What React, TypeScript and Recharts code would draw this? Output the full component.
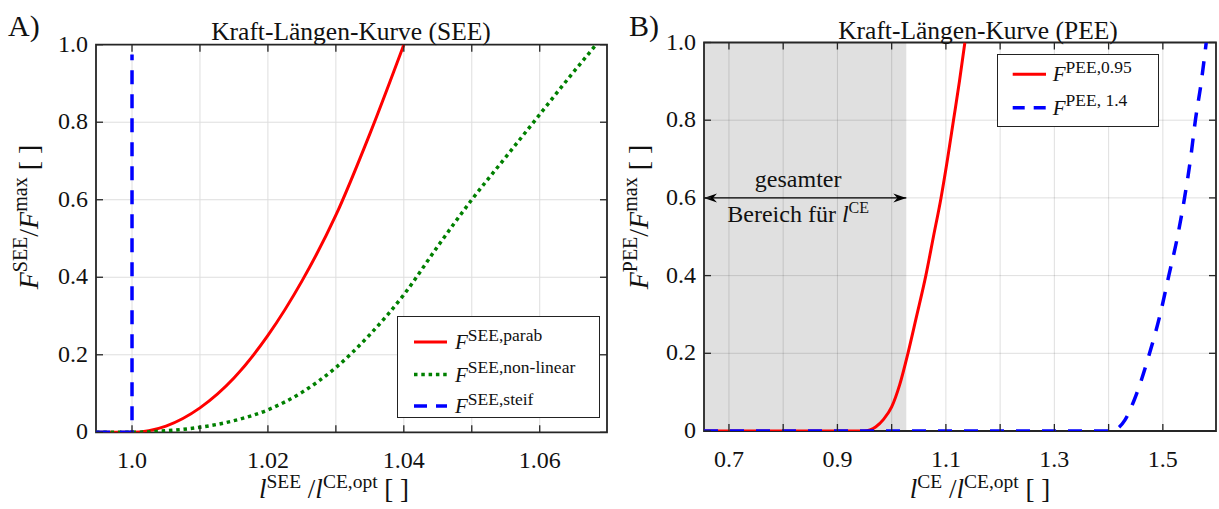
import React from 'react';
import { LineChart, Line, XAxis, YAxis, CartesianGrid, ReferenceArea, ReferenceLine, Legend } from 'recharts';

const FONT = '"Liberation Serif", "Times New Roman", Times, serif';
const AX = '#262626';
const TXT = '#111';

// ---------- Panel A (SEE) ----------
const seeDomain = [0.9947, 1.0699];
const seeTicks = [1.0, 1.01, 1.02, 1.03, 1.04, 1.05, 1.06];
const seeTickLabels = ['1.0', '', '1.02', '', '1.04', '', '1.06'];

const yTicks = [0, 0.2, 0.4, 0.6, 0.8, 1.0];
const yTickLabels = ['0', '0.2', '0.4', '0.6', '0.8', '1.0'];

const parabX = [0.9947, 1.0, 1.005, 1.01, 1.015, 1.02, 1.025, 1.03, 1.035, 1.04];
const parabY = [0, 0, 0.016, 0.063, 0.14, 0.25, 0.39, 0.56, 0.77, 1.0];

const nonlinX = [0.9947, 1.0, 1.005, 1.01, 1.015, 1.02, 1.025, 1.03, 1.035, 1.04, 1.045, 1.05, 1.055, 1.06, 1.065, 1.0683];
const nonlinY = [0, 0, 0.004, 0.013, 0.03, 0.058, 0.103, 0.167, 0.252, 0.355, 0.48, 0.6, 0.71, 0.82, 0.93, 1.0];

const steifX = [0.9947, 1.0, 1.0];
const steifY = [0, 0, 0.975];

// ---------- Panel B (PEE) ----------
const peeDomain = [0.654, 1.598];
const peeTicks = [0.7, 0.8, 0.9, 1.0, 1.1, 1.2, 1.3, 1.4, 1.5];
const peeTickLabels = ['0.7', '', '0.9', '', '1.1', '', '1.3', '', '1.5'];

const pee095X = [0.654, 0.95, 0.96, 0.971, 0.985, 1.0, 1.015, 1.03, 1.045, 1.063, 1.077, 1.091, 1.103, 1.114, 1.125, 1.135];
const pee095Y = [0, 0, 0.003, 0.011, 0.03, 0.062, 0.12, 0.2, 0.29, 0.4, 0.5, 0.6, 0.7, 0.8, 0.9, 1.0];

const pee14X = [0.654, 1.4, 1.41, 1.43, 1.45, 1.4755, 1.495, 1.511, 1.527, 1.54, 1.551, 1.56, 1.571, 1.58];
const pee14Y = [0, 0, 0.002, 0.028, 0.09, 0.2, 0.3, 0.4, 0.5, 0.6, 0.7, 0.8, 0.9, 1.0];

const shadeStart = 0.654;
const shadeEnd = 1.027;
const arrowLevel = 0.6;

const pts = (xs: number[], ys: number[]) => xs.map((x, i) => ({ x, y: ys[i] }));

// ---------- layout ----------
const BOX_A = { L: 96, R: 607, T: 44.7, B: 432.3, W: 610 };
const BOX_B = { L: 94, R: 606, T: 42.5, B: 431, W: 609 };
const XAXIS_H = 40;

const makeXTick = (box: any, ticks: number[], labels: string[]) => (props: any) => {
  const { x, payload } = props;
  const i = ticks.findIndex((t) => Math.abs(t - payload.value) < 1e-9);
  const lab = i >= 0 ? labels[i] : '';
  return (
    <g>
      <line x1={x} x2={x} y1={box.B} y2={box.B - 7} stroke={AX} strokeWidth={1.3} />
      <line x1={x} x2={x} y1={box.T} y2={box.T + 7} stroke={AX} strokeWidth={1.3} />
      {lab ? (
        <text x={x} y={box.B + 36} textAnchor="middle" fontFamily={FONT} fontSize={24} fill={TXT}>
          {lab}
        </text>
      ) : null}
    </g>
  );
};

const makeYTick = (box: any) => (props: any) => {
  const { y, payload } = props;
  const i = yTicks.findIndex((t) => Math.abs(t - payload.value) < 1e-9);
  const lab = i >= 0 ? yTickLabels[i] : '';
  return (
    <g>
      <line x1={box.L} x2={box.L + 7} y1={y} y2={y} stroke={AX} strokeWidth={1.3} />
      <line x1={box.R} x2={box.R - 7} y1={y} y2={y} stroke={AX} strokeWidth={1.3} />
      <text x={box.L - 8} y={y - 1} textAnchor="end" dominantBaseline="central" fontFamily={FONT} fontSize={24} fill={TXT}>
        {lab}
      </text>
    </g>
  );
};

type Row = { color: string; dash?: string; sw: number; sup: string; cy: number };

const LegendBox = ({ w, h, rows, x1, x2, tx }: { w: number; h: number; rows: Row[]; x1: number; x2: number; tx: number }) => (
  <div style={{ width: w, height: h, border: '1.2px solid #222', background: '#fff', boxSizing: 'border-box' }}>
    <svg width={w - 2} height={h - 2} style={{ display: 'block' }}>
      {rows.map((r, i) => (
        <g key={i}>
          <line x1={x1} x2={x2} y1={r.cy} y2={r.cy} stroke={r.color} strokeWidth={r.sw} strokeDasharray={r.dash} />
          <text x={tx} y={r.cy + 7} fontFamily={FONT} fontSize={21} fill={TXT}>
            <tspan fontStyle="italic">F</tspan>
            <tspan fontSize={17.5} dy={-8.5}>{r.sup}</tspan>
          </text>
        </g>
      ))}
    </svg>
  </div>
);

const ArrowAnno = (props: any) => {
  const vb = props.viewBox || {};
  const x0 = vb.x;
  const x1 = vb.x + vb.width;
  const y = vb.y;
  const cx = (x0 + x1) / 2 - 7;
  return (
    <g>
      <path d={`M${x0},${y} L${x0 + 13},${y - 4.5} L${x0 + 9},${y} L${x0 + 13},${y + 4.5} Z`} fill="#000" />
      <path d={`M${x1},${y} L${x1 - 13},${y - 4.5} L${x1 - 9},${y} L${x1 - 13},${y + 4.5} Z`} fill="#000" />
      <text x={cx} y={y - 11} textAnchor="middle" fontFamily={FONT} fontSize={24} fill={TXT}>gesamter</text>
      <text x={cx} y={y + 24} textAnchor="middle" fontFamily={FONT} fontSize={24} fill={TXT}>
        <tspan>Bereich für </tspan>
        <tspan fontStyle="italic">l</tspan>
        <tspan fontSize={16} dy={-9}>CE</tspan>
      </text>
    </g>
  );
};

const lineCommon = {
  type: 'linear' as const,
  dataKey: 'y',
  dot: false,
  activeDot: false,
  isAnimationActive: false,
  strokeLinecap: 'butt' as const,
};

const PanelA = () => (
  <LineChart
    width={BOX_A.W}
    height={509}
    margin={{ top: BOX_A.T, right: BOX_A.W - BOX_A.R, bottom: 509 - BOX_A.B - XAXIS_H, left: 0 }}
  >
    <CartesianGrid stroke="#dedede" strokeWidth={1} />
    <XAxis
      type="number"
      dataKey="x"
      domain={seeDomain}
      ticks={seeTicks}
      interval={0}
      allowDataOverflow
      height={XAXIS_H}
      axisLine={false}
      tickLine={false}
      tick={makeXTick(BOX_A, seeTicks, seeTickLabels)}
    />
    <YAxis
      type="number"
      domain={[0, 1]}
      ticks={yTicks}
      interval={0}
      allowDataOverflow
      width={BOX_A.L}
      axisLine={false}
      tickLine={false}
      tick={makeYTick(BOX_A)}
    />
    <Line {...lineCommon} type="monotone" data={pts(parabX, parabY)} stroke="#ff0000" strokeWidth={3} />
    <Line {...lineCommon} type="monotone" data={pts(nonlinX, nonlinY)} stroke="#008000" strokeWidth={3.5} strokeDasharray="3.5 3.8" />
    <Line {...lineCommon} data={pts(steifX, steifY)} stroke="#0000ff" strokeWidth={3.5} strokeDasharray="14 10" />
    <ReferenceArea x1={seeDomain[0]} x2={seeDomain[1]} y1={0} y2={1} fill="none" stroke={AX} strokeWidth={1.8} ifOverflow="visible" />
    <Legend
      layout="vertical"
      align="center"
      verticalAlign="middle"
      wrapperStyle={{ left: 397, top: 315.7, width: 203, height: 102 }}
      content={() => (
        <LegendBox
          w={203}
          h={102}
          x1={16}
          x2={49}
          tx={57}
          rows={[
            { color: '#ff0000', sw: 3, sup: 'SEE,parab', cy: 25 },
            { color: '#008000', sw: 3.5, dash: '3.5 3.8', sup: 'SEE,non-linear', cy: 57.5 },
            { color: '#0000ff', sw: 3.5, dash: '13 9', sup: 'SEE,steif', cy: 89 },
          ]}
        />
      )}
    />
  </LineChart>
);

const PanelB = () => (
  <LineChart
    width={BOX_B.W}
    height={509}
    margin={{ top: BOX_B.T, right: BOX_B.W - BOX_B.R, bottom: 509 - BOX_B.B - XAXIS_H, left: 0 }}
  >
    <ReferenceArea x1={shadeStart} x2={shadeEnd} y1={0} y2={1} fill="#000" fillOpacity={0.12} stroke="none" ifOverflow="visible" />
    <CartesianGrid stroke="#262626" strokeOpacity={0.15} strokeWidth={1} />
    <XAxis
      type="number"
      dataKey="x"
      domain={peeDomain}
      ticks={peeTicks}
      interval={0}
      allowDataOverflow
      height={XAXIS_H}
      axisLine={false}
      tickLine={false}
      tick={makeXTick(BOX_B, peeTicks, peeTickLabels)}
    />
    <YAxis
      type="number"
      domain={[0, 1]}
      ticks={yTicks}
      interval={0}
      allowDataOverflow
      width={BOX_B.L}
      axisLine={false}
      tickLine={false}
      tick={makeYTick(BOX_B)}
    />
    <ReferenceLine
      segment={[{ x: shadeStart, y: arrowLevel }, { x: shadeEnd, y: arrowLevel }]}
      stroke="#000"
      strokeWidth={1.3}
      ifOverflow="visible"
      label={<ArrowAnno />}
    />
    <Line {...lineCommon} type="monotone" data={pts(pee095X, pee095Y)} stroke="#ff0000" strokeWidth={3} />
    <Line {...lineCommon} type="monotone" data={pts(pee14X, pee14Y)} stroke="#0000ff" strokeWidth={3.5} strokeDasharray="14 12" />
    <ReferenceArea x1={peeDomain[0]} x2={peeDomain[1]} y1={0} y2={1} fill="none" stroke={AX} strokeWidth={1.8} ifOverflow="visible" />
    <Legend
      layout="vertical"
      align="center"
      verticalAlign="middle"
      wrapperStyle={{ left: 387, top: 54, width: 162, height: 73 }}
      content={() => (
        <LegendBox
          w={162}
          h={73}
          x1={14.7}
          x2={48}
          tx={54.7}
          rows={[
            { color: '#ff0000', sw: 3, sup: 'PEE,0.95', cy: 19.3 },
            { color: '#0000ff', sw: 3.5, dash: '12 9', sup: 'PEE, 1.4', cy: 52.7 },
          ]}
        />
      )}
    />
  </LineChart>
);

const Overlay = () => (
  <svg width={1219} height={509} style={{ position: 'absolute', left: 0, top: 0, pointerEvents: 'none' }}>
    <g fontFamily={FONT} fill={TXT}>
      <text x={8} y={36} fontSize={30}>A)</text>
      <text x={629} y={36} fontSize={30}>B)</text>
      <text x={351} y={40} fontSize={25.5} textAnchor="middle">Kraft-Längen-Kurve (SEE)</text>
      <text x={978} y={39} fontSize={25.5} textAnchor="middle">Kraft-Längen-Kurve (PEE)</text>

      <text x={334} y={498} fontSize={27} textAnchor="middle">
        <tspan fontStyle="italic">l</tspan>
        <tspan fontSize={19.5} dy={-10}>SEE</tspan>
        <tspan dy={10}> /</tspan>
        <tspan fontStyle="italic">l</tspan>
        <tspan fontSize={19.5} dy={-10}>CE,opt</tspan>
        <tspan dy={10}> [ ]</tspan>
      </text>
      <text x={980} y={498} fontSize={27} textAnchor="middle">
        <tspan fontStyle="italic">l</tspan>
        <tspan fontSize={19.5} dy={-10}>CE</tspan>
        <tspan dy={10}> /</tspan>
        <tspan fontStyle="italic">l</tspan>
        <tspan fontSize={19.5} dy={-10}>CE,opt</tspan>
        <tspan dy={10}> [ ]</tspan>
      </text>

      <text transform="translate(38,217) rotate(-90)" fontSize={28} textAnchor="middle">
        <tspan fontStyle="italic">F</tspan>
        <tspan fontSize={20} dy={-11}>SEE</tspan>
        <tspan dy={11}>/</tspan>
        <tspan fontStyle="italic">F</tspan>
        <tspan fontSize={20} dy={-11}>max</tspan>
        <tspan dy={11}> [ ]</tspan>
      </text>
      <text transform="translate(648,217) rotate(-90)" fontSize={28} textAnchor="middle">
        <tspan fontStyle="italic">F</tspan>
        <tspan fontSize={20} dy={-11}>PEE</tspan>
        <tspan dy={11}>/</tspan>
        <tspan fontStyle="italic">F</tspan>
        <tspan fontSize={20} dy={-11}>max</tspan>
        <tspan dy={11}> [ ]</tspan>
      </text>
    </g>
  </svg>
);

export default function App() {
  return (
    <div style={{ position: 'absolute', left: 0, top: 0, width: 1219, height: 509, background: '#fff', overflow: 'hidden' }}>
      <div style={{ position: 'absolute', left: 0, top: 0 }}>
        <PanelA />
      </div>
      <div style={{ position: 'absolute', left: 610, top: 0 }}>
        <PanelB />
      </div>
      <Overlay />
    </div>
  );
}
